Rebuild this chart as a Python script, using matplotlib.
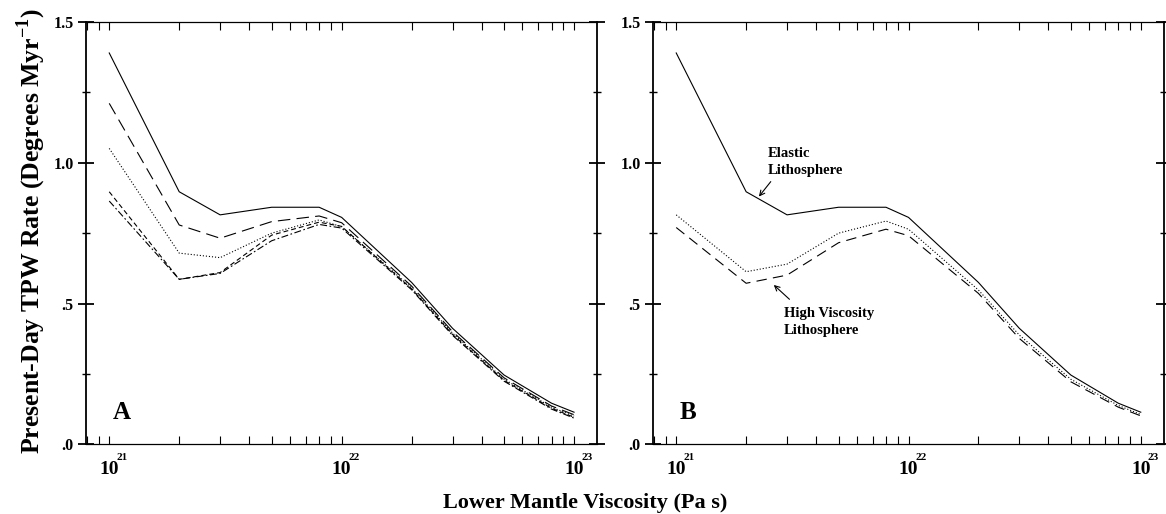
import matplotlib
matplotlib.use("Agg")
import matplotlib.pyplot as plt
from matplotlib.ticker import FixedLocator, NullFormatter, FixedFormatter
from matplotlib.transforms import blended_transform_factory, offset_copy

plt.rcParams['font.family'] = ['Liberation Serif', 'DejaVu Serif']
plt.rcParams['font.weight'] = 'bold'
plt.rcParams['mathtext.fontset'] = 'custom'
plt.rcParams['mathtext.rm'] = 'Liberation Serif:bold'
plt.rcParams['mathtext.bf'] = 'Liberation Serif:bold'
plt.rcParams['lines.scale_dashes'] = False

# ---------------- data ----------------
viscosity = [1e21, 2e21, 3e21, 5e21, 8e21, 1e22, 2e22, 3e22, 5e22, 8e22, 1e23]

a_solid    = [1.390, 0.897, 0.815, 0.842, 0.842, 0.806, 0.575, 0.412, 0.246, 0.146, 0.114]
a_longdash = [1.211, 0.779, 0.732, 0.791, 0.811, 0.787, 0.562, 0.400, 0.236, 0.136, 0.105]
a_dotted   = [1.051, 0.679, 0.663, 0.750, 0.797, 0.773, 0.556, 0.395, 0.231, 0.132, 0.100]
a_dash     = [0.897, 0.586, 0.610, 0.743, 0.789, 0.774, 0.552, 0.390, 0.227, 0.128, 0.096]
a_dashdot  = [0.864, 0.586, 0.607, 0.723, 0.781, 0.768, 0.549, 0.387, 0.224, 0.125, 0.093]

b_solid    = [1.390, 0.897, 0.815, 0.842, 0.842, 0.806, 0.575, 0.412, 0.246, 0.146, 0.114]
b_dotted   = [0.815, 0.613, 0.640, 0.750, 0.793, 0.764, 0.548, 0.388, 0.231, 0.138, 0.106]
b_dashed   = [0.770, 0.572, 0.601, 0.716, 0.764, 0.741, 0.536, 0.376, 0.222, 0.132, 0.101]

y_major = [0.0, 0.5, 1.0, 1.5]
y_major_labels = ['.0', '.5', '1.0', '1.5']
y_minor = [0.25, 0.75, 1.25]
x_decades = [21, 22, 23]
x_minor = [m * 10.0 ** e for e in (20, 21, 22) for m in range(2, 10)]

panel_letters = ['A', 'B']
xlabel = 'Lower Mantle Viscosity (Pa s)'
ylabel = r'Present-Day TPW Rate (Degrees Myr$^{\mathbf{-1}}$)'

# ---------------- figure ----------------
W, H = 1166, 514
fig = plt.figure(figsize=(W / 100, H / 100), dpi=100)

def px_rect(x0, x1, ytop, ybot):
    return [x0 / W, 1 - ybot / H, (x1 - x0) / W, (ybot - ytop) / H]

axA = fig.add_axes(px_rect(86, 597.3, 22, 444.3))
axB = fig.add_axes(px_rect(653, 1164, 22, 444.3))

lw = 0.8
styles = {
    'solid': '-',
    'longdash': (0, (9, 4.5)),
    'dotted': (0, (0.8, 1.4)),
    'dash': (0, (3.5, 2.2)),
    'dashdot': (0, (5, 1.8, 1.2, 1.8)),
    'bdash': (0, (7.5, 4.5)),
}

axA.plot(viscosity, a_solid, color='black', lw=lw, ls=styles['solid'])
axA.plot(viscosity, a_longdash, color='black', lw=lw, ls=styles['longdash'])
axA.plot(viscosity, a_dotted, color='black', lw=lw, ls=styles['dotted'])
axA.plot(viscosity, a_dash, color='black', lw=lw, ls=styles['dash'])
axA.plot(viscosity, a_dashdot, color='black', lw=lw, ls=styles['dashdot'])

axB.plot(viscosity, b_solid, color='black', lw=lw, ls=styles['solid'])
axB.plot(viscosity, b_dotted, color='black', lw=lw, ls=styles['dotted'])
axB.plot(viscosity, b_dashed, color='black', lw=lw, ls=styles['bdash'])

for ax, letter in zip((axA, axB), panel_letters):
    ax.set_xscale('log')
    ax.set_xlim(10 ** 20.9, 10 ** 23.1)
    ax.set_ylim(0, 1.5)
    for s in ('left', 'right'):
        ax.spines[s].set_linewidth(1.3)
    for s in ('top', 'bottom'):
        ax.spines[s].set_linewidth(0.9)
    ax.xaxis.set_major_locator(FixedLocator([10.0 ** e for e in x_decades]))
    ax.xaxis.set_minor_locator(FixedLocator(x_minor))
    ax.xaxis.set_major_formatter(NullFormatter())
    ax.xaxis.set_minor_formatter(NullFormatter())
    ax.tick_params(axis='x', which='both', direction='in', top=True, bottom=True,
                   length=5.8, width=0.8)
    ax.yaxis.set_major_locator(FixedLocator(y_major))
    ax.yaxis.set_major_formatter(FixedFormatter(y_major_labels))
    ax.yaxis.set_minor_locator(FixedLocator(y_minor))
    ax.tick_params(axis='y', which='major', direction='inout', left=True, right=True,
                   length=11.5, width=1.3, labelsize=11.5, pad=3.0)
    ax.tick_params(axis='y', which='minor', direction='inout', left=True, right=True,
                   length=5.5, width=1.0)
    for lab in ax.get_yticklabels():
        lab.set_fontweight('bold')

    # x tick labels: "10" with small superscript exponent
    trans = blended_transform_factory(ax.transData, ax.transAxes)
    for e in x_decades:
        t_base = offset_copy(trans, fig=fig, x=0, y=-21.6, units='points')
        ax.text(10.0 ** e, 0, '10', transform=t_base, ha='center', va='baseline',
                fontsize=14, fontweight='bold', clip_on=False)
        t_exp = offset_copy(trans, fig=fig, x=5.2, y=-11.3, units='points')
        ax.text(10.0 ** e, 0, str(e), transform=t_exp, ha='left', va='baseline',
                fontsize=8, fontweight='bold', clip_on=False)

    ax.text(10 ** 21.016, 0.09, letter, ha='left', va='baseline',
            fontsize=18, fontweight='bold')

# annotations in panel B
axB.text(10 ** 21.392, 1.0206, 'Elastic', ha='left', va='baseline', fontsize=10.5, fontweight='bold')
axB.text(10 ** 21.392, 0.960, 'Lithosphere', ha='left', va='baseline', fontsize=10.5, fontweight='bold')
axB.annotate('', xy=(10 ** 21.356, 0.880), xytext=(10 ** 21.407, 0.933),
             arrowprops=dict(arrowstyle='->', lw=0.8, color='black', mutation_scale=9,
                             shrinkA=0, shrinkB=0))
axB.text(10 ** 21.463, 0.452, 'High Viscosity', ha='left', va='baseline', fontsize=10.5, fontweight='bold')
axB.text(10 ** 21.463, 0.391, 'Lithosphere', ha='left', va='baseline', fontsize=10.5, fontweight='bold')
axB.annotate('', xy=(10 ** 21.42, 0.566), xytext=(10 ** 21.4875, 0.515),
             arrowprops=dict(arrowstyle='->', lw=0.8, color='black', mutation_scale=9,
                             shrinkA=0, shrinkB=0))

fig.text(585.5 / W, 1 - 508 / H, xlabel, ha='center', va='baseline',
         fontsize=16, fontweight='bold')
fig.text(31 / W, 1 - 231.5 / H, ylabel, ha='center', va='center', rotation=90,
         fontsize=18.5, fontweight='bold')

fig.savefig('out.png', dpi=100)
